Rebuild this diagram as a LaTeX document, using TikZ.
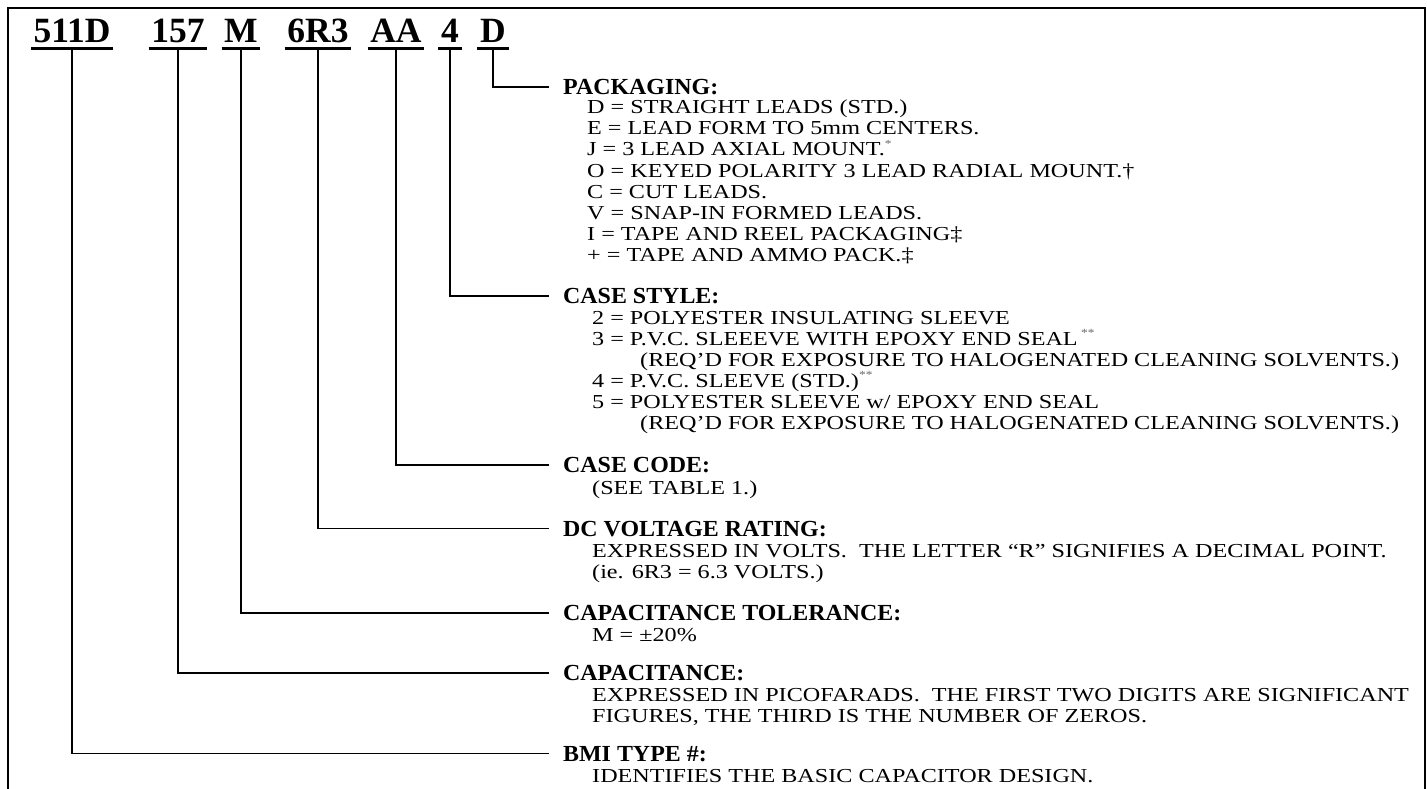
\documentclass[tikz,border=0pt]{standalone}
\usepackage{fontspec}
\setmainfont{Liberation Serif}
\newfontfamily\bodyfont[FakeStretch=1.22]{Liberation Serif}
\newfontfamily\lblfont[FakeStretch=1.04]{Liberation Serif}
\newcommand{\fnmark}[1]{\raisebox{9pt}{\textcolor{black!60}{\fontsize{11}{11}\selectfont #1}}}
\tikzset{
  frameline/.style={line width=1.5pt},
  conn/.style={line width=1.5pt},
  hdr/.style={font=\bfseries\fontsize{35.5}{36}\selectfont, inner xsep=2.5pt, inner ysep=0pt,
              text height=24pt, text depth=5.5pt, anchor=base},
  uline/.style={line width=3pt},
  lbl/.style={font=\lblfont\bfseries\fontsize{23}{24}\selectfont, inner sep=0pt,
              text height=15pt, text depth=0pt, anchor=base west},
  itm/.style={font=\bodyfont\fontsize{19.8}{21}\selectfont, inner sep=0pt, anchor=base west},
}
\begin{document}
\begin{tikzpicture}[x=1pt,y=-1pt]
\useasboundingbox (0,0) rectangle (1427,789);
% frame (open at the bottom)
\draw[frameline] (8,789) -- (8,8) -- (1425,8) -- (1425,789);

% part number header
\node[hdr] (h1) at (72,43)  {511D};
\node[hdr] (h2) at (178,43) {157};
\node[hdr] (h3) at (241,43) {M};
\node[hdr] (h4) at (318,43) {6R3};
\node[hdr] (h5) at (396,43) {AA};
\node[hdr] (h6) at (450,43) {4};
\node[hdr] (h7) at (493,43) {D};
\foreach \n in {h1,h2,h3,h4,h5,h6,h7}
  \draw[uline] (\n.south west) -- (\n.south east);

% section labels
\node[lbl] (lpk) at (563,94.5)  {PACKAGING:};
\node[lbl] (lcs) at (563,303.5) {CASE STYLE:};
\node[lbl] (lcc) at (563,472.5) {CASE CODE:};
\node[lbl] (ldc) at (563,536)   {DC VOLTAGE RATING:};
\node[lbl] (lct) at (563,620.5) {CAPACITANCE TOLERANCE:};
\node[lbl] (lca) at (563,680.5) {CAPACITANCE:};
\node[lbl] (lbm) at (563,761)   {BMI TYPE \#:};

% connectors
\draw[conn] (h7.south) |- ([xshift=-14pt]lpk.west);
\draw[conn] (h6.south) |- ([xshift=-14pt]lcs.west);
\draw[conn] (h5.south) |- ([xshift=-14pt]lcc.west);
\draw[conn] (h4.south) |- ([xshift=-14pt]ldc.west);
\draw[conn] (h3.south) |- ([xshift=-14pt]lct.west);
\draw[conn] (h2.south) |- ([xshift=-14pt]lca.west);
\draw[conn] (h1.south) |- ([xshift=-14pt]lbm.west);

% packaging
\node[itm] (pk1) at (587,114) {D = STRAIGHT LEADS (STD.)};
\node[itm] (pk2) at (587,135) {E = LEAD FORM TO 5mm CENTERS.};
\node[itm] (pk3) at (587,156) {J = 3 LEAD AXIAL MOUNT.\fnmark{*}};
\node[itm] (pk4) at (587,177.2) {O = KEYED POLARITY 3 LEAD RADIAL MOUNT.†};
\node[itm] (pk5) at (587,198.3) {C = CUT LEADS.};
\node[itm] (pk6) at (587,219.4) {V = SNAP-IN FORMED LEADS.};
\node[itm] (pk7) at (587,240.5) {I = TAPE AND REEL PACKAGING‡};
\node[itm] (pk8) at (587,261.6) {+ = TAPE AND AMMO PACK.‡};

% case style
\node[itm] (cs1) at (592,324.6) {2 = POLYESTER INSULATING SLEEVE};
\node[itm] (cs2) at (592,345.6) {3 = P.V.C. SLEEEVE WITH EPOXY END SEAL\,\fnmark{**}};
\node[itm] (cs3) at (640,366.7) {(REQ’D FOR EXPOSURE TO HALOGENATED CLEANING SOLVENTS.)};
\node[itm] (cs4) at (592,387.7) {4 = P.V.C. SLEEVE (STD.)\fnmark{**}};
\node[itm] (cs5) at (592,408.8) {5 = POLYESTER SLEEVE w/ EPOXY END SEAL};
\node[itm] (cs6) at (640,429.8) {(REQ’D FOR EXPOSURE TO HALOGENATED CLEANING SOLVENTS.)};

% case code
\node[itm] (cc1) at (592,494.5) {(SEE TABLE 1.)};

% dc voltage
\node[itm] (dc1) at (592,557) {EXPRESSED IN VOLTS.\ \ THE LETTER “R” SIGNIFIES A DECIMAL POINT.};
\node[itm] (dc2) at (592,578) {(ie. 6R3 = 6.3 VOLTS.)};

% tolerance
\node[itm] (ct1) at (592,641.5) {M = ±20\%};

% capacitance
\node[itm] (ca1) at (592,701.5) {EXPRESSED IN PICOFARADS.\ \ THE FIRST TWO DIGITS ARE SIGNIFICANT};
\node[itm] (ca2) at (592,722.5) {FIGURES, THE THIRD IS THE NUMBER OF ZEROS.};

% bmi type
\node[itm] (bm1) at (592,782) {IDENTIFIES THE BASIC CAPACITOR DESIGN.};
\end{tikzpicture}
\end{document}
